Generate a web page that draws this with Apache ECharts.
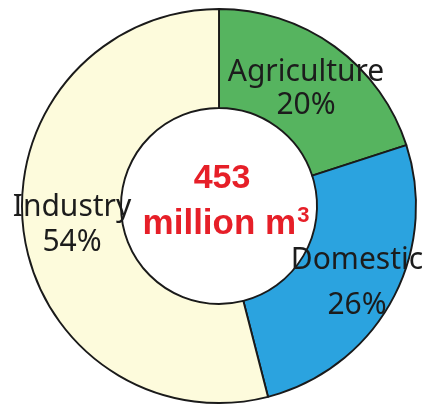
<!DOCTYPE html>
<html>
<head>
<meta charset="utf-8">
<script src="https://cdn.jsdelivr.net/npm/echarts@6/dist/echarts.min.js"></script>
<style>
  html, body { margin: 0; padding: 0; background: #ffffff; }
  #chart { width: 430px; height: 405px; }
</style>
</head>
<body>
<div id="chart"></div>
<script>
// Water use by sector (share of total, %)
const sectors = ['Agriculture', 'Domestic', 'Industry'];
const shares = [20, 26, 54];
const sectorColors = ['#56b45f', '#2ba3df', '#fdfbdc'];
const totalVolume = 453;
const totalUnit = 'million m';

// label anchor and line spacing for each sector
const labelSpots = [
  { x: 306, y: 89, lh: 33 },
  { x: 357, y: 283, lh: 45 },
  { x: 72, y: 225, lh: 35 }
];

const chart = echarts.init(document.getElementById('chart'), null, { renderer: 'canvas' });

chart.setOption({
  backgroundColor: '#ffffff',
  animation: false,
  series: [{
    type: 'pie',
    center: [219, 206],
    radius: [98, 197],
    startAngle: 90,
    clockwise: true,
    avoidLabelOverlap: false,
    itemStyle: { borderColor: '#1a1a1a', borderWidth: 1.9 },
    emphasis: { disabled: true },
    label: {
      show: true,
      position: 'inside',
      formatter: '{b}\n{d}%',
      color: '#1c1c1c',
      fontFamily: 'Noto Sans',
      fontSize: 30,
      align: 'center'
    },
    labelLine: { show: false },
    labelLayout: function (p) {
      const s = labelSpots[p.dataIndex];
      return { x: s.x, y: s.y, align: 'center', verticalAlign: 'middle' };
    },
    data: sectors.map((name, i) => ({
      name: name,
      value: shares[i],
      itemStyle: { color: sectorColors[i] },
      label: { lineHeight: labelSpots[i].lh }
    }))
  }],
  graphic: [
    {
      type: 'text',
      style: {
        text: String(totalVolume),
        fill: '#e61f28',
        font: 'bold 34px "Liberation Sans", Arial, sans-serif',
        textAlign: 'center',
        textVerticalAlign: 'middle'
      },
      x: 222, y: 179
    },
    {
      type: 'text',
      style: {
        text: '{a|' + totalUnit + '}{s|3}',
        fill: '#e61f28',
        textAlign: 'center',
        textVerticalAlign: 'middle',
        rich: {
          a: { fontFamily: '"Liberation Sans", Arial, sans-serif', fontWeight: 'bold', fontSize: 35, fill: '#e61f28', color: '#e61f28' },
          s: { fontFamily: '"Liberation Sans", Arial, sans-serif', fontWeight: 'bold', fontSize: 22, fill: '#e61f28', color: '#e61f28', verticalAlign: 'top', padding: [0, 0, 16, 1] }
        }
      },
      x: 226, y: 224
    }
  ]
});
</script>
</body>
</html>
